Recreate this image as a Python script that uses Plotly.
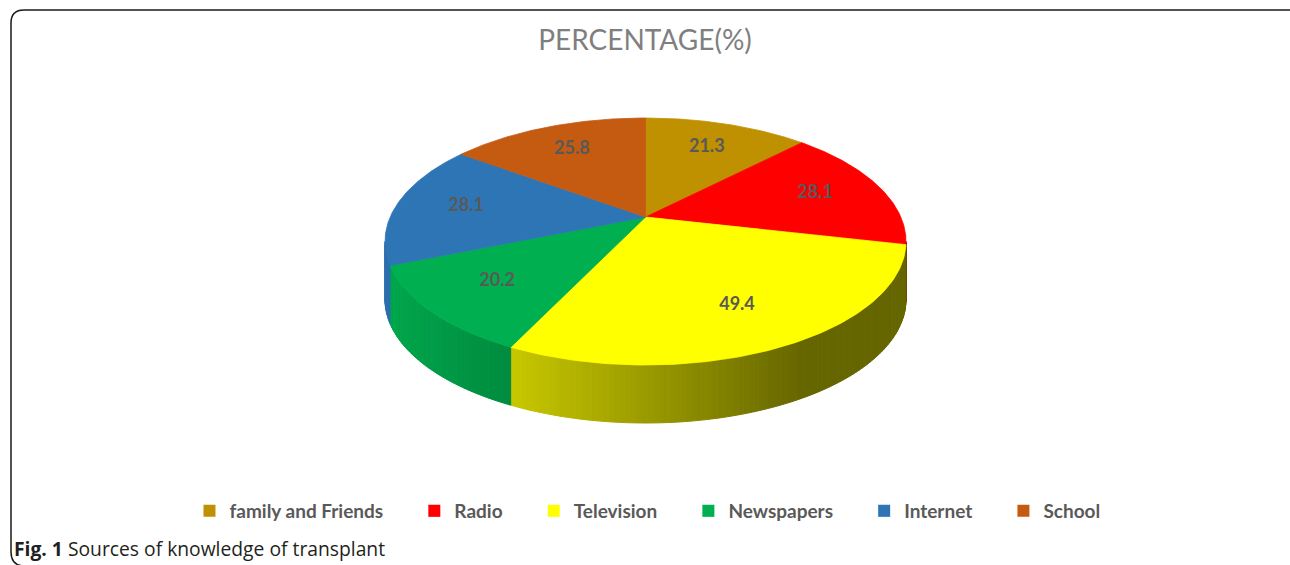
import numpy as np
import plotly.graph_objects as go

# ---------------- data ----------------
categories = ["family and Friends", "Radio", "Television", "Newspapers", "Internet", "School"]
values = [21.3, 28.1, 49.4, 20.2, 28.1, 25.8]
colors = ["#bf9000", "#ff0000", "#ffff00", "#00b050", "#2e75b6", "#c55a11"]
title_text = "PERCENTAGE(%)"
caption_bold = "Fig. 1"
caption_text = "Sources of knowledge of transplant"

# ---------------- geometry (style) ----------------
W, H = 1290, 565
CX, CY = 645.5, 241.5      # centre of the top ellipse (pixels)
RX, RY = 260.5, 123.5      # semi axes of the top ellipse
A = -0.198                 # perspective factor
DEPTH = 58                 # thickness of the pie
LABEL_R = 0.72             # radial fraction of the data labels
S = np.sqrt(1 - A * A)


def proj(theta_deg, r=1.0):
    """Angle measured clockwise from 12 o'clock, r radial fraction -> pixel coords."""
    t = np.radians(theta_deg)
    u = r * np.sin(t)
    v = -r * np.cos(t)
    d = 1 + A * v
    X = u * S / d
    Y = (v + A) / d
    return CX + RX * X, CY + RY * Y, X


def shade_hex(hexcol, f):
    h = hexcol.lstrip("#")
    r, g, b = (int(h[i:i + 2], 16) for i in (0, 2, 4))
    return "rgb(%d,%d,%d)" % (round(r * f), round(g * f), round(b * f))


total = sum(values)
bounds = np.concatenate([[0], np.cumsum(values) / total * 360.0])

# visible side range (lower half of the projected ellipse)
th_right = np.degrees(np.arccos(A))
th_left = 360 - th_right

fig = go.Figure()

# ---------------- side walls ----------------
for i, col in enumerate(colors):
    a0, a1 = max(bounds[i], th_right), min(bounds[i + 1], th_left)
    if a1 <= a0:
        continue
    n = max(2, int(np.ceil((a1 - a0) / 1.0)))
    ts = np.linspace(a0, a1, n + 1)
    for k in range(n):
        t0, t1 = ts[k], ts[k + 1]
        xs0, ys0, X0 = proj(t0)
        xs1, ys1, X1 = proj(t1)
        Xm = 0.5 * (X0 + X1)
        f = 0.95 - (Xm + 1) * 0.344
        f = min(0.95, max(0.40, f))
        c = shade_hex(col, f)
        fig.add_trace(go.Scatter(
            x=[xs0, xs1, xs1, xs0, xs0],
            y=[ys0, ys1, ys1 + DEPTH, ys0 + DEPTH, ys0],
            mode="lines", fill="toself", fillcolor=c,
            line=dict(color=c, width=1), hoverinfo="skip", showlegend=False))

# ---------------- top slices ----------------
for i, col in enumerate(colors):
    ts = np.linspace(bounds[i], bounds[i + 1], 120)
    xs, ys, _ = proj(ts)
    ax, ay, _ = proj(0, 0)
    fig.add_trace(go.Scatter(
        x=np.concatenate([[ax], xs, [ax]]),
        y=np.concatenate([[ay], ys, [ay]]),
        mode="lines", fill="toself", fillcolor=col,
        line=dict(color=col, width=0.8), hoverinfo="skip", showlegend=False))

# ---------------- data labels ----------------
mids = (bounds[:-1] + bounds[1:]) / 2
lx, ly, _ = proj(mids, LABEL_R)
fig.add_trace(go.Scatter(
    x=lx, y=ly, mode="text",
    text=["<b>%.1f</b>" % v for v in values],
    textfont=dict(family="Lato", size=18, color="#595959"),
    hoverinfo="skip", showlegend=False))

# ---------------- legend ----------------
for name, col in zip(categories, colors):
    fig.add_trace(go.Scatter(
        x=[None], y=[None], mode="markers", name="<b>%s</b>\u2003\u2002\u2009" % name,
        marker=dict(symbol="square", size=12, color=col)))

# ---------------- frame ----------------
fig.add_shape(type="path",
              path="M 1300 10 L 24 10 Q 11 10 11 23 L 11 552 Q 11 566 25 566",
              xref="x", yref="y", line=dict(color="#1a1a1a", width=1.5))

fig.add_annotation(
    x=12, y=548, xref="x", yref="y", xanchor="left", yanchor="middle",
    text="<b>%s</b> %s" % (caption_bold, caption_text), showarrow=False,
    font=dict(family="Open Sans", size=19.3, color="#231f20"))

fig.update_layout(
    width=W, height=H,
    margin=dict(l=0, r=0, t=0, b=0),
    paper_bgcolor="white", plot_bgcolor="white",
    title=dict(text=title_text, x=0.5, xanchor="center", y=1 - 40 / H, yanchor="middle",
               font=dict(family="Lato", size=28, color="#7f7f7f")),
    xaxis=dict(range=[0, W], visible=False, fixedrange=True),
    yaxis=dict(range=[H, 0], visible=False, fixedrange=True),
    legend=dict(orientation="h", x=0.512, xanchor="center", y=1 - 511 / H, yanchor="middle",
                font=dict(family="Lato", size=19, color="#595959"),
                itemsizing="constant", bgcolor="rgba(0,0,0,0)"),
    showlegend=True,
)

fig.write_html("out.html")
